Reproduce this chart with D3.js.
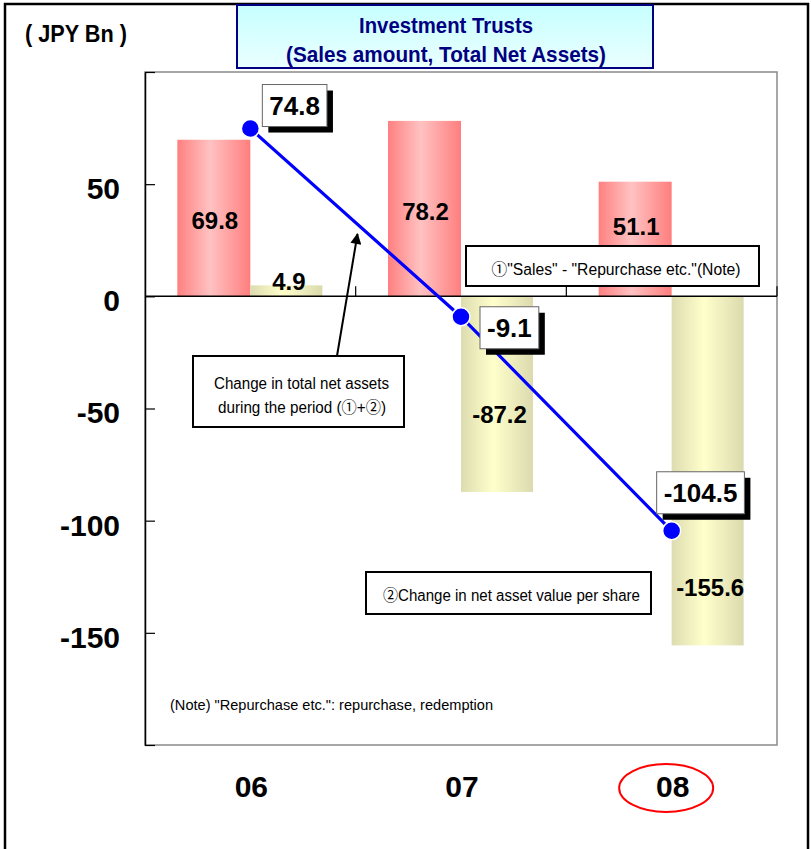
<!DOCTYPE html>
<html>
<head>
<meta charset="utf-8">
<script src="https://cdn.jsdelivr.net/npm/d3@7"></script>
<style>
  html, body { margin: 0; padding: 0; background: #fff; }
  svg { display: block; }
  text { font-family: "Liberation Sans", Arial, "Noto Sans CJK JP", sans-serif; }
  .narrow { font-family: "Liberation Sans Narrow", "Liberation Sans", Arial, "Noto Sans CJK JP", sans-serif; }
</style>
</head>
<body>
<svg id="chart" width="811" height="849"></svg>
<script>
// Fiscal years on the category axis
const categories = ["06", "07", "08"];
// ① "Sales" - "Repurchase etc." (JPY Bn)
const netSales = [69.8, 78.2, 51.1];
// ② Change in net asset value per share (JPY Bn)
const navChange = [4.9, -87.2, -155.6];
// Change in total net assets during the period (①+②)
const totalChange = [74.8, -9.1, -104.5];
// Value-axis ticks and which of them carry a label
const yTicks = [100, 50, 0, -50, -100, -150, -200];
const yTickLabels = [50, 0, -50, -100, -150];

// Where each bar label sits, in axis units
const netSalesLabelAt = [33.6, 37.7, 31.0];
const navLabelAt = [6.4, -52.9, -130];
// Offset of each value callout box (top-left) from its point, px
const calloutOffset = [[12, -44], [19, -10], [-15, -59]];

const svg = d3.select("#chart");
const W = 811, H = 849;
const plot = { left: 145, top: 72, right: 777, bottom: 745 };

svg.append("rect").attr("width", W).attr("height", H).attr("fill", "#fff");

// outer frame
svg.append("rect")
  .attr("x", 5).attr("y", 4).attr("width", 803).attr("height", 870)
  .attr("fill", "none").attr("stroke", "#000").attr("stroke-width", 2.5);

const defs = svg.append("defs");
function hGrad(id, edgeL, mid, edgeR) {
  const g = defs.append("linearGradient").attr("id", id)
    .attr("x1", "0%").attr("x2", "100%").attr("y1", "0%").attr("y2", "0%");
  g.append("stop").attr("offset", "0%").attr("stop-color", edgeL);
  g.append("stop").attr("offset", "45%").attr("stop-color", mid);
  g.append("stop").attr("offset", "100%").attr("stop-color", edgeR);
}
hGrad("gRed", "#ff8080", "#ffc2c2", "#ff7e7e");
hGrad("gYel", "#dcdcb0", "#ffffcc", "#dadaae");
const tg = defs.append("linearGradient").attr("id", "gTitle")
  .attr("x1", "0%").attr("x2", "0%").attr("y1", "0%").attr("y2", "100%");
tg.append("stop").attr("offset", "0%").attr("stop-color", "#c6ffff");
tg.append("stop").attr("offset", "100%").attr("stop-color", "#ebffff");
const mk = defs.append("marker").attr("id", "arrowHead")
  .attr("viewBox", "0 0 10 10").attr("refX", 9).attr("refY", 5)
  .attr("markerWidth", 6).attr("markerHeight", 5.5)
  .attr("markerUnits", "strokeWidth").attr("orient", "auto");
mk.append("path").attr("d", "M0,0 L10,5 L0,10 Z").attr("fill", "#000");

// scales
const x = d3.scaleBand().domain(categories).range([plot.left, plot.right]).padding(0);
const y = d3.scaleLinear().domain([-200, 100]).range([plot.bottom, plot.top]);
const bw = x.bandwidth();
const cx = c => x(c) + bw / 2;
const barW = 73;

// plot frame
svg.append("rect")
  .attr("x", plot.left).attr("y", plot.top)
  .attr("width", plot.right - plot.left).attr("height", plot.bottom - plot.top)
  .attr("fill", "#fff").attr("stroke", "#8a8a8a").attr("stroke-width", 1.5);

// bars
const gBars = svg.append("g");
gBars.selectAll("rect.sales").data(categories).join("rect")
  .attr("class", "sales")
  .attr("x", c => cx(c) - barW)
  .attr("width", barW)
  .attr("y", (c, i) => Math.min(y(netSales[i]), y(0)))
  .attr("height", (c, i) => Math.abs(y(netSales[i]) - y(0)))
  .attr("fill", "url(#gRed)");
gBars.selectAll("rect.nav").data(categories).join("rect")
  .attr("class", "nav")
  .attr("x", c => cx(c))
  .attr("width", barW - 1)
  .attr("y", (c, i) => Math.min(y(navChange[i]), y(0)))
  .attr("height", (c, i) => Math.abs(y(navChange[i]) - y(0)))
  .attr("fill", "url(#gYel)");

// bar value labels
const fmt1 = v => v.toFixed(1);
gBars.selectAll("text.salesLbl").data(categories).join("text")
  .attr("class", "salesLbl")
  .attr("x", c => cx(c) - barW / 2 + 1)
  .attr("y", (c, i) => y(netSalesLabelAt[i]))
  .attr("dy", "0.35em")
  .attr("text-anchor", "middle")
  .attr("font-size", 24).attr("font-weight", "bold").attr("fill", "#000")
  .text((c, i) => fmt1(netSales[i]));
gBars.selectAll("text.navLbl").data(categories).join("text")
  .attr("class", "navLbl")
  .attr("x", c => cx(c) + barW / 2 + 2)
  .attr("y", (c, i) => y(navLabelAt[i]))
  .attr("dy", "0.35em")
  .attr("text-anchor", "middle")
  .attr("font-size", 24).attr("font-weight", "bold").attr("fill", "#000")
  .text((c, i) => fmt1(navChange[i]));

// value axis
const yAxis = d3.axisLeft(y)
  .tickValues(yTicks)
  .tickSizeInner(-10).tickSizeOuter(0)
  .tickPadding(25)
  .tickFormat(d => yTickLabels.includes(d) ? String(d) : "");
const gy = svg.append("g").attr("transform", `translate(${plot.left},0)`).call(yAxis);
gy.select(".domain").attr("stroke", "#000").attr("stroke-width", 1.5);
gy.selectAll(".tick line").attr("stroke", "#000").attr("stroke-width", 1.2);
gy.selectAll(".tick text")
  .attr("font-size", 30).attr("font-weight", "bold").attr("fill", "#000")
  .attr("font-family", "'Liberation Sans', Arial, sans-serif")
  .attr("dy", "0.48em");

// category axis along zero, with ticks between categories
const gx = svg.append("g");
gx.append("line")
  .attr("x1", plot.left).attr("x2", plot.right)
  .attr("y1", y(0)).attr("y2", y(0))
  .attr("stroke", "#000").attr("stroke-width", 1.5);
gx.selectAll("line.sep").data(categories.slice(1).concat(["end"])).join("line")
  .attr("class", "sep")
  .attr("x1", c => c === "end" ? plot.right : x(c))
  .attr("x2", c => c === "end" ? plot.right : x(c))
  .attr("y1", y(0)).attr("y2", y(0) - 10)
  .attr("stroke", "#000").attr("stroke-width", 1.2);
svg.selectAll("text.cat").data(categories).join("text")
  .attr("class", "cat")
  .attr("x", c => cx(c) + 1)
  .attr("y", 797)
  .attr("text-anchor", "middle")
  .attr("font-size", 30).attr("font-weight", "bold").attr("fill", "#000")
  .text(c => c);

// highlight on the latest year
svg.append("ellipse")
  .attr("cx", cx("08") - 5.5).attr("cy", 788)
  .attr("rx", 47).attr("ry", 24)
  .attr("fill", "none").attr("stroke", "#ff0000").attr("stroke-width", 2);

// total change line
const line = d3.line().x(d => cx(d.c)).y(d => y(d.v));
const pts = categories.map((c, i) => ({ c, v: totalChange[i] }));
svg.append("path").datum(pts)
  .attr("d", line)
  .attr("fill", "none").attr("stroke", "#0000ff").attr("stroke-width", 3.2);
svg.selectAll("circle.pt").data(pts).join("circle")
  .attr("class", "pt")
  .attr("cx", d => cx(d.c)).attr("cy", d => y(d.v))
  .attr("r", 9)
  .attr("fill", "#0000ff").attr("stroke", "#fff").attr("stroke-width", 1.5);

// value callouts for the line
const gCall = svg.append("g");
pts.forEach((d, i) => {
  const bx = cx(d.c) + calloutOffset[i][0];
  const by = y(d.v) + calloutOffset[i][1];
  const g = gCall.append("g");
  const shadow = g.append("rect").attr("fill", "#000");
  const box = g.append("rect").attr("fill", "#fff").attr("stroke", "#666").attr("stroke-width", 1);
  const t = g.append("text")
    .attr("font-size", 26).attr("font-weight", "bold").attr("fill", "#000")
    .attr("text-anchor", "middle")
    .text(fmt1(d.v));
  const tw = t.node().getComputedTextLength();
  const w = tw + 14, h = 42;
  box.attr("x", bx).attr("y", by).attr("width", w).attr("height", h);
  shadow.attr("x", bx + 6).attr("y", by + 6).attr("width", w).attr("height", h);
  t.attr("x", bx + w / 2).attr("y", by + h / 2 + 9.5);
});

// annotation boxes
function noteBox(x0, y0, x1, y1, lines) {
  const g = svg.append("g");
  g.append("rect")
    .attr("x", x0).attr("y", y0).attr("width", x1 - x0).attr("height", y1 - y0)
    .attr("fill", "#fff").attr("stroke", "#000").attr("stroke-width", 2);
  lines.forEach(l => {
    g.append("text").attr("class", "narrow")
      .attr("x", l.x).attr("y", l.y)
      .attr("text-anchor", "middle")
      .attr("font-size", 16).attr("fill", "#000")
      .attr("textLength", l.w).attr("lengthAdjust", "spacingAndGlyphs")
      .text(l.t);
  });
}
noteBox(466, 246, 759, 286, [
  { t: "①\"Sales\" - \"Repurchase etc.\"(Note)", x: 616, y: 275, w: 249 }
]);
noteBox(193, 356, 404, 427, [
  { t: "Change in total net assets", x: 301.5, y: 389, w: 175 },
  { t: "during the period (①+②)", x: 302, y: 413, w: 168 }
]);
noteBox(366, 572, 651, 614, [
  { t: "②Change in net asset value per share", x: 511.5, y: 601, w: 257 }
]);

// pointer from the total-change note to the line
svg.append("line")
  .attr("x1", 337).attr("y1", 356).attr("x2", 357.5).attr("y2", 234)
  .attr("stroke", "#000").attr("stroke-width", 2)
  .attr("marker-end", "url(#arrowHead)");

// footnote
svg.append("text").attr("class", "narrow")
  .attr("x", 170).attr("y", 710)
  .attr("font-size", 15).attr("fill", "#000")
  .attr("textLength", 323).attr("lengthAdjust", "spacingAndGlyphs")
  .text("(Note) \"Repurchase etc.\": repurchase, redemption");

// unit label
svg.append("text")
  .attr("x", 25).attr("y", 42)
  .attr("font-size", 23).attr("font-weight", "bold").attr("fill", "#000")
  .attr("textLength", 102).attr("lengthAdjust", "spacingAndGlyphs")
  .text("( JPY Bn )");

// title
svg.append("rect")
  .attr("x", 237).attr("y", 5).attr("width", 416).attr("height", 63)
  .attr("fill", "url(#gTitle)").attr("stroke", "#000080").attr("stroke-width", 2);
svg.append("text").attr("class", "narrow")
  .attr("x", 446).attr("y", 33).attr("text-anchor", "middle")
  .attr("font-size", 22).attr("font-weight", "bold").attr("fill", "#000080")
  .attr("textLength", 174).attr("lengthAdjust", "spacingAndGlyphs")
  .text("Investment Trusts");
svg.append("text").attr("class", "narrow")
  .attr("x", 446).attr("y", 62).attr("text-anchor", "middle")
  .attr("font-size", 22).attr("font-weight", "bold").attr("fill", "#000080")
  .attr("textLength", 320).attr("lengthAdjust", "spacingAndGlyphs")
  .text("(Sales amount, Total Net Assets)");
</script>
</body>
</html>
